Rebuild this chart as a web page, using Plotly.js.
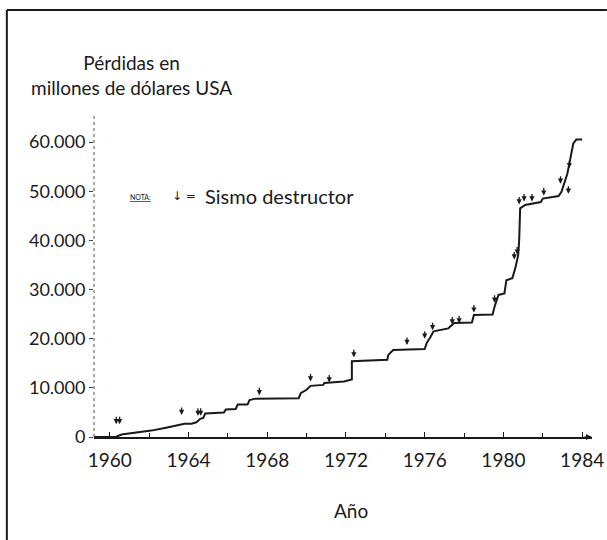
<!DOCTYPE html>
<html lang="es">
<head>
    <meta charset="UTF-8">
    <style>
        html, body, #plot {
            width: 607px;
            height: 540px;
            margin: 0;
            padding: 0;
            overflow: hidden;
            background: #ffffff;
        }
    </style>
</head>
<body>
<div id="plot"></div>
<script src="https://cdn.plot.ly/plotly-3.0.1.min.js"></script>
<script>
    // cumulative losses (millions of USD), corner points of the step curve
    const years = [1959.2, 1960.3, 1960.6, 1961.3, 1962.1, 1962.8, 1963.3, 1963.8, 1964.15, 1964.4,
        1964.6, 1964.75, 1964.85, 1965.8, 1965.9, 1966.4, 1966.5, 1967.0, 1967.1, 1967.4,
        1969.6, 1969.7, 1970.0, 1970.2, 1970.85, 1970.9, 1971.9, 1972.2, 1972.3, 1972.3,
        1974.1, 1974.15, 1974.4, 1976.0, 1976.1, 1976.3, 1976.45, 1977.2, 1977.5, 1978.4,
        1978.5, 1979.45, 1979.55, 1979.75, 1980.05, 1980.15, 1980.45, 1980.6, 1980.75, 1980.8,
        1980.85, 1981.1, 1981.9, 1982.0, 1982.8, 1982.95, 1983.1, 1983.25, 1983.35, 1983.45,
        1983.55, 1983.7, 1984.0];
    const losses = [0, 0, 500, 850, 1300, 1850, 2300, 2700, 2700, 3000,
        3700, 3900, 4800, 5000, 5600, 5700, 6600, 6600, 7500, 7800,
        7900, 8900, 9600, 10400, 10600, 11000, 11300, 11700, 11700, 15400,
        15700, 16700, 17700, 17900, 19100, 20400, 21500, 22100, 23200, 23300,
        24800, 24900, 26500, 28900, 29200, 31900, 32300, 34300, 37000, 40000,
        46500, 47200, 47800, 48500, 49000, 49900, 51600, 53600, 55600, 58000,
        59700, 60500, 60500];

    // destructive earthquakes: year and level of the arrow tip
    const quakeYears = [1960.33, 1960.5, 1963.65, 1964.48, 1964.62, 1967.6, 1970.2, 1971.15, 1972.4, 1975.1,
        1976.0, 1976.4, 1977.4, 1977.75, 1978.5, 1979.55, 1980.55, 1980.7, 1980.8, 1981.05,
        1981.45, 1982.05, 1982.9, 1983.3, 1983.35];
    const quakeLevels = [2600, 2600, 4500, 4300, 4300, 8500, 11300, 11100, 16200, 18700,
        20000, 21700, 22900, 23100, 25300, 27300, 36100, 37100, 47300, 47900,
        47900, 49100, 51500, 49500, 54700];

    const yTicks = [0, 10000, 20000, 30000, 40000, 50000, 60000];
    const xTicks = [1960, 1964, 1968, 1972, 1976, 1980, 1984];

    const font = 'Lato, "Noto Sans", sans-serif';
    const ink = '#1a1a1a';

    const curve = {
        x: years,
        y: losses,
        type: 'scatter',
        mode: 'lines',
        line: {color: ink, width: 2},
        hoverinfo: 'skip'
    };

    // small downward arrows for each earthquake, placed in data coordinates
    const quakeArrows = quakeYears.map((yr, i) => ({
        x: yr,
        y: quakeLevels[i],
        xref: 'x',
        yref: 'y',
        text: '',
        showarrow: true,
        ax: 0,
        ay: -9,
        arrowhead: 2,
        arrowsize: 0.8,
        arrowwidth: 1.3,
        arrowcolor: ink
    }));

    const layout = {
        width: 607,
        height: 540,
        margin: {l: 94, r: 15, t: 115, b: 103, pad: 0},
        paper_bgcolor: '#ffffff',
        plot_bgcolor: '#ffffff',
        showlegend: false,
        separators: ',.',
        font: {family: font, color: ink},
        xaxis: {
            range: [1959.2, 1984.5],
            tickvals: xTicks,
            ticks: 'inside',
            ticklen: 5,
            tickcolor: ink,
            tickfont: {family: font, size: 19, color: ink},
            ticklabelstandoff: 6,
            minor: {dtick: 2, tick0: 1960, ticks: 'inside', ticklen: 4, tickcolor: ink},
            showline: true,
            linecolor: ink,
            linewidth: 1.5,
            showgrid: false,
            zeroline: false
        },
        yaxis: {
            range: [0, 65500],
            tickvals: yTicks,
            tickformat: ',d',
            ticks: 'outside',
            ticklen: 4,
            tickcolor: '#444',
            tickfont: {family: font, size: 18, color: ink},
            showline: false,
            showgrid: false,
            zeroline: false
        },
        shapes: [
            // dotted y axis
            {type: 'line', xref: 'paper', yref: 'paper', x0: 0, x1: 0, y0: 0, y1: 1,
                line: {color: '#555', width: 1, dash: 'dot'}},
            // page frame
            {type: 'line', xref: 'paper', yref: 'paper', x0: -0.175, x1: 1.03, y0: 1.326, y1: 1.326,
                line: {color: ink, width: 2}},
            {type: 'line', xref: 'paper', yref: 'paper', x0: -0.175, x1: -0.175, y0: 1.326, y1: -0.33,
                line: {color: ink, width: 2}}
        ],
        annotations: [
            {text: 'Pérdidas en<br>millones de dólares USA', xref: 'paper', yref: 'paper',
                x: 0.076, y: 1.123, xanchor: 'center', yanchor: 'middle', showarrow: false,
                font: {family: font, size: 19, color: ink}},
            {text: 'Año', xref: 'paper', yref: 'paper', x: 0.516, y: -0.227,
                xanchor: 'center', yanchor: 'middle', showarrow: false,
                font: {family: font, size: 19, color: ink}},
            {text: '<u>NOTA:</u>', xref: 'paper', yref: 'paper', x: 0.094, y: 0.745,
                xanchor: 'center', yanchor: 'middle', showarrow: false,
                font: {family: font, size: 7, color: ink}},
            {text: '↓ =', xref: 'paper', yref: 'paper', x: 0.18, y: 0.748,
                xanchor: 'center', yanchor: 'middle', showarrow: false,
                font: {family: '"DejaVu Sans", sans-serif', size: 12, color: ink}},
            {text: 'Sismo destructor', xref: 'paper', yref: 'paper', x: 0.219, y: 0.75,
                xanchor: 'left', yanchor: 'middle', showarrow: false,
                font: {family: font, size: 20, color: ink}},
            // arrow head at the end of the x axis
            {text: '', x: 1984.5, y: 0, ax: -10, ay: 0, showarrow: true,
                arrowhead: 2, arrowsize: 1, arrowwidth: 1.2, arrowcolor: ink}
        ].concat(quakeArrows)
    };

    const config = {displayModeBar: false, staticPlot: true};

    Plotly.newPlot('plot', [curve], layout, config);
</script>
</body>
</html>
